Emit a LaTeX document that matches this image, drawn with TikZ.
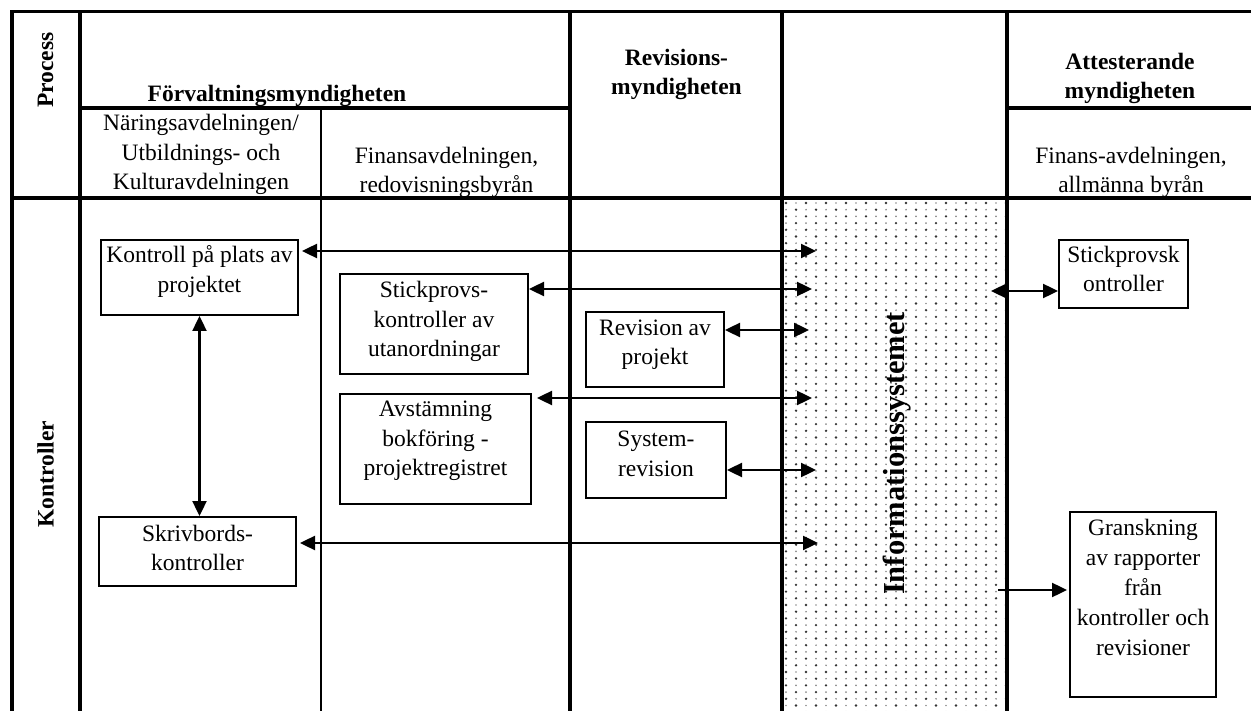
\documentclass[tikz,border=0pt]{standalone}
\usepackage{fontspec}
\setmainfont{Liberation Serif}
\usetikzlibrary{arrows.meta,calc}
\tikzset{
  rule/.style={line width=3.3pt, line cap=rect},
  thinrule/.style={line width=1.2pt},
  box/.style={draw, line width=2pt, inner sep=0pt},
  txt/.style={align=center, inner sep=0pt, font=\fontsize{23.5}{29.5}\selectfont},
  head/.style={align=center, inner sep=0pt, font=\fontsize{23.5}{29}\selectfont\bfseries},
  tip/.tip={Triangle[length=15pt,width=14pt]},
  link/.style={line width=2.4pt, tip-tip},
  oneway/.style={line width=2.4pt, -tip},
  darkdot/.style={fill=black!80},
  lightdot/.style={fill=black!45},
}
\begin{document}
\begin{tikzpicture}[x=1pt,y=1pt]
\useasboundingbox (0,0) rectangle (1251,-711);

% dotted band of the information system column
\begin{scope}
  \clip (783.6,-199.6) rectangle (1005.4,-715);
  \foreach \p in {0,...,38} {
    \foreach \c in {0,...,11} {
      \fill[darkdot]  ({786+20*\c},{-203-13.4*\p}) circle (1.3);
      \fill[lightdot] ({796+20*\c},{-203-13.4*\p}) circle (0.95);
      \fill[darkdot]  ({796+20*\c},{-209.7-13.4*\p}) circle (1.3);
      \fill[lightdot] ({786+20*\c},{-209.7-13.4*\p}) circle (0.95);
    }
  }
\end{scope}

% table rules
\draw[rule] (12,-11.5) -- (1255,-11.5);
\draw[rule] (12,-11.5) -- (12,-715);
\draw[rule] (80,-11.5) -- (80,-715);
\draw[rule] (570,-11.5) -- (570,-715);
\draw[rule] (782,-11.5) -- (782,-715);
\draw[rule] (1007,-11.5) -- (1007,-715);
\draw[rule] (80,-108) -- (570,-108);
\draw[rule] (1007,-108) -- (1255,-108);
\draw[rule] (12,-198) -- (1255,-198);
\draw[thinrule] (321,-108) -- (321,-715);

% headings
\node[head, rotate=90] (process) at (45.5,-70) {Process};
\node[head, rotate=90] (kontroller) at (45.5,-474) {Kontroller};
\node[head] (forv) at (277,-96) {Förvaltningsmyndigheten};
\node[head] (revm) at (676.5,-74) {Revisions-\\myndigheten};
\node[head] (att) at (1130,-78.5) {Attesterande\\myndigheten};
\node[txt] (nar) at (201,-154.75) {Näringsavdelningen/\\Utbildnings- och\\Kulturavdelningen};
\node[txt] (fin) at (446.5,-172.5) {Finansavdelningen,\\redovisningsbyrån};
\node[txt] (finb) at (1131,-172.5) {Finans-avdelningen,\\allmänna byrån};
\node[head, rotate=90, font=\fontsize{30.5}{36}\selectfont\bfseries] (info) at (897.5,-453.5) {Informationssystemet};

% process boxes
\node[box, minimum width=197pt, minimum height=75pt] (kp) at (199.5,-277.5) {};
\node[txt] (kpt) at (199.5,-271.5) {Kontroll på plats av\\projektet};
\node[box, minimum width=197pt, minimum height=69pt] (sk) at (197.5,-551.5) {};
\node[txt] (skt) at (197.5,-548) {Skrivbords-\\kontroller};
\node[box, minimum width=188pt, minimum height=100pt] (sp) at (434,-324) {};
\node[txt] (spt) at (434,-321.5) {Stickprovs-\\kontroller av\\utanordningar};
\node[box, minimum width=191pt, minimum height=110pt] (av) at (435.5,-449) {};
\node[txt] (avt) at (435.5,-441) {Avstämning\\bokföring -\\projektregistret};
\node[box, minimum width=138pt, minimum height=75pt] (rp) at (655,-349.5) {};
\node[txt] (rpt) at (655,-344.5) {Revision av\\projekt};
\node[box, minimum width=140pt, minimum height=76pt] (sr) at (656,-460) {};
\node[txt] (srt) at (656,-454) {System-\\revision};
\node[box, minimum width=129pt, minimum height=68pt] (skb) at (1123.5,-274) {};
\node[txt] (skbt) at (1123.5,-269) {Stickprovsk\\ontroller};
\node[box, minimum width=146pt, minimum height=185pt] (gr) at (1143,-604.5) {};
\node[txt, font=\fontsize{23.5}{30}\selectfont] (grt) at (1143,-587) {Granskning\\av rapporter\\från\\kontroller och\\revisioner};

% free ends inside the information system column
\coordinate (i1) at (816,-251);
\coordinate (i2) at (812,-289);
\coordinate (i3) at (809,-330);
\coordinate (i4) at (812,-398);
\coordinate (i5) at (816,-470);
\coordinate (i6) at (818,-543);
\coordinate (o1) at (991,-291);
\coordinate (o2) at (998,-590);

% connectors
\draw[link] ($(kp.east |- i1)+(3,0)$) -- (i1);
\draw[link] (sp.east |- i2) -- (i2);
\draw[link] (rp.east |- i3) -- (i3);
\draw[link] ($(av.east |- i4)+(5,0)$) -- (i4);
\draw[link] (sr.east |- i5) -- (i5);
\draw[link] ($(sk.east |- i6)+(3,0)$) -- (i6);
\draw[link] (kp.south) -- (kp.south |- sk.north);
\draw[link] (o1) -- (skb.west |- o1);
\draw[oneway] (o2) -- ($(gr.west |- o2)+(-2,0)$);
\end{tikzpicture}
\end{document}
